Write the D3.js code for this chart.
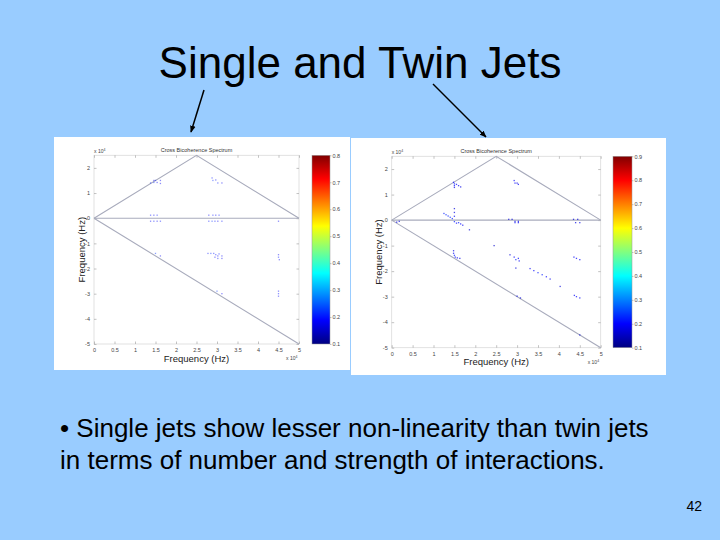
<!DOCTYPE html>
<html><head><meta charset="utf-8">
<script src="https://cdn.jsdelivr.net/npm/d3@7"></script>
<style>
html,body{margin:0;padding:0;background:#99ccff;}
svg{display:block;}
</style></head>
<body>
<svg id="c" width="720" height="540"></svg>
<script>
// ---- data (frequencies in units of 10^4 Hz) ----
const xTicks = [0,0.5,1,1.5,2,2.5,3,3.5,4,4.5,5];
const yTicks = [2,1,0,-1,-2,-3,-4,-5];
const singleCbTicks = [0.1,0.2,0.3,0.4,0.5,0.6,0.7,0.8];
const twinCbTicks = [0.1,0.2,0.3,0.4,0.5,0.6,0.7,0.8,0.9];
// principal-domain boundary lines
const boundaryTri = [[0,0],[2.5,2.5],[5,0]];
const boundaryAxis = [[0,0],[5,0]];
const boundaryLow = [[0,0],[5,-5]];
// [f1, f2, bicoherence]
const singlePoints = [
 [1.38,1.4,0.2],[1.46,1.42,0.22],[1.5,1.5,0.2],[1.54,1.42,0.18],[1.62,1.38,0.18],[1.62,1.5,0.18],[1.46,1.5,0.18],
 [2.88,1.6,0.2],[2.9,1.5,0.22],[2.97,1.52,0.18],[3.02,1.4,0.2],[3.12,1.4,0.18],
 [1.38,0.12,0.2],[1.46,0.12,0.18],[1.54,0.12,0.2],[1.38,-0.12,0.18],[1.46,-0.12,0.2],[1.54,-0.12,0.18],[1.62,-0.12,0.2],
 [2.8,0.12,0.18],[2.9,0.12,0.2],[2.97,0.12,0.18],[3.05,0.12,0.2],[2.8,-0.12,0.2],[2.88,-0.12,0.22],[2.95,-0.12,0.2],[3.02,-0.12,0.18],[3.12,-0.12,0.2],
 [4.5,-0.12,0.18],
 [1.5,-1.4,0.22],[1.62,-1.5,0.18],
 [2.78,-1.4,0.2],[2.85,-1.4,0.22],[2.92,-1.4,0.2],[2.97,-1.45,0.2],[3.02,-1.5,0.18],[3.05,-1.42,0.2],[3.12,-1.5,0.18],[2.95,-1.55,0.18],[3.02,-1.6,0.2],[3.12,-1.6,0.18],
 [4.5,-1.45,0.18],[4.5,-1.55,0.2],[4.52,-1.65,0.18],
 [3.0,-2.9,0.22],[3.12,-3.0,0.18],
 [4.5,-2.9,0.18],[4.5,-3.0,0.2],[4.5,-3.1,0.18]
];
const twinPoints = [
 [1.48,1.48,0.2],[1.5,1.42,0.22],[1.5,1.35,0.2],[1.5,1.28,0.18],[1.55,1.4,0.2],[1.6,1.35,0.19],[1.65,1.3,0.18],
 [2.93,1.55,0.19],[2.95,1.45,0.2],[3.0,1.45,0.18],[3.03,1.4,0.19],
 [1.5,0.45,0.17],[1.5,0.3,0.18],[1.5,0.15,0.19],
 [1.25,0.26,0.22],[1.3,0.21,0.23],[1.35,0.16,0.22],[1.4,0.11,0.23],[1.45,0.06,0.22],
 [1.5,-0.06,0.22],[1.55,-0.12,0.2],[1.6,-0.1,0.22],[1.65,-0.15,0.2],[1.7,-0.2,0.19],
 [1.86,-0.38,0.17],[0.12,-0.08,0.18],[0.18,-0.05,0.17],
 [2.8,0.03,0.17],[2.88,0.03,0.17],[2.95,-0.1,0.19],[3.03,-0.1,0.19],[2.95,-0.05,0.18],[3.03,-0.05,0.18],
 [4.35,0.03,0.17],[4.4,-0.1,0.18],[4.5,-0.1,0.18],[4.45,0.03,0.17],
 [1.48,-1.2,0.17],[1.48,-1.3,0.19],[1.5,-1.38,0.22],[1.52,-1.45,0.2],[1.57,-1.48,0.19],[1.63,-1.5,0.18],
 [2.93,-1.45,0.2],[2.97,-1.55,0.22],[3.03,-1.5,0.2],[3.05,-1.6,0.19],[2.97,-1.88,0.17],[2.83,-1.36,0.17],[2.45,-1.0,0.16],
 [3.31,-1.9,0.19],[3.4,-1.98,0.2],[3.5,-2.06,0.22],[3.6,-2.14,0.22],[3.7,-2.22,0.2],[3.79,-2.31,0.19],[4.03,-2.6,0.17],
 [4.36,-1.45,0.19],[4.42,-1.5,0.2],[4.5,-1.55,0.19],
 [4.37,-2.95,0.19],[4.42,-3.0,0.2],[4.5,-3.05,0.19],
 [3.0,-2.98,0.18],[3.08,-3.05,0.17],
 [4.5,-4.5,0.17]
];

const FONT = '"Liberation Sans", Arial, Helvetica, sans-serif';
const svg = d3.select('#c');

// slide title
svg.append('text').attr('x',360).attr('y',78).attr('text-anchor','middle')
  .attr('font-family',FONT).attr('font-size',44).attr('fill','#000').text('Single and Twin Jets');

// arrows
const defs = svg.append('defs');
defs.append('marker').attr('id','ah').attr('viewBox','0 0 10 10').attr('refX',9).attr('refY',5)
  .attr('markerWidth',7).attr('markerHeight',7).attr('markerUnits','userSpaceOnUse').attr('orient','auto')
  .append('path').attr('d','M0,1 L10,5 L0,9 Z').attr('fill','#000');
svg.append('line').attr('x1',204).attr('y1',90).attr('x2',191).attr('y2',132)
  .attr('stroke','#000').attr('stroke-width',1.5).attr('marker-end','url(#ah)');
svg.append('line').attr('x1',433).attr('y1',84).attr('x2',486).attr('y2',137)
  .attr('stroke','#000').attr('stroke-width',1.5).attr('marker-end','url(#ah)');

// jet colormap
const jet = d3.scaleLinear()
  .domain([0,0.125,0.375,0.625,0.875,1])
  .range(['#000080','#0000ff','#00ffff','#ffff00','#ff0000','#800000'])
  .interpolate(d3.interpolateRgb);

function panel(cfg){
  const g = svg.append('g');
  g.append('rect').attr('x',cfg.px).attr('y',cfg.py).attr('width',cfg.pw).attr('height',cfg.ph).attr('fill','#fff');
  const x = d3.scaleLinear().domain([0,5]).range([cfg.ax0,cfg.ax1]);
  const y = d3.scaleLinear().domain([-5,2.5]).range([cfg.ay1,cfg.ay0]);
  // axes box
  g.append('rect').attr('x',cfg.ax0).attr('y',cfg.ay0).attr('width',cfg.ax1-cfg.ax0).attr('height',cfg.ay1-cfg.ay0)
    .attr('fill','none').attr('stroke','#dadada').attr('stroke-width',0.8);
  const xa = g.append('g').attr('transform',`translate(0,${cfg.ay1})`)
    .call(d3.axisBottom(x).tickValues(xTicks).tickSize(-2.5).tickPadding(4).tickFormat(d=>String(d)));
  const xt = g.append('g').attr('transform',`translate(0,${cfg.ay0})`)
    .call(d3.axisTop(x).tickValues(xTicks).tickSize(-2.5).tickFormat(''));
  const ya = g.append('g').attr('transform',`translate(${cfg.ax0},0)`)
    .call(d3.axisLeft(y).tickValues(yTicks).tickSize(-2.5).tickPadding(4).tickFormat(d=>String(d)));
  const yr = g.append('g').attr('transform',`translate(${cfg.ax1},0)`)
    .call(d3.axisRight(y).tickValues(yTicks).tickSize(-2.5).tickFormat(''));
  [xa,xt,ya,yr].forEach(a=>{
    a.select('.domain').remove();
    a.selectAll('line').attr('stroke','#9a9a9a').attr('stroke-width',0.6);
    a.selectAll('text').attr('font-family',FONT).attr('font-size',5.5).attr('fill','#444');
  });
  // boundary lines
  const line = d3.line().x(d=>x(d[0])).y(d=>y(d[1]));
  [boundaryTri,boundaryAxis,boundaryLow].forEach(b=>{
    g.append('path').attr('d',line(b)).attr('fill','none').attr('stroke','#a8abbc').attr('stroke-width',1.1);
  });
  // points
  const cnorm = d3.scaleLinear().domain([0.1,cfg.cmax]).range([0,1]);
  g.selectAll('rect.pt').data(cfg.points).join('rect').attr('class','pt')
    .attr('x',d=>x(d[0])-0.65).attr('y',d=>y(d[1])-0.65).attr('width',1.3).attr('height',1.3)
    .attr('fill',d=>jet(cnorm(d[2]))).attr('opacity',cfg.op);
  // title & labels
  g.append('text').attr('x',(cfg.ax0+cfg.ax1)/2).attr('y',cfg.ay0-3.5).attr('text-anchor','middle')
    .attr('font-family',FONT).attr('font-size',5.5).attr('fill','#333').text('Cross Bicoherence Spectrum');
  g.append('text').attr('x',(cfg.ax0+cfg.ax1)/2).attr('y',cfg.ay1+17.5).attr('text-anchor','middle')
    .attr('font-family',FONT).attr('font-size',9.5).attr('fill','#222').text('Frequency (Hz)');
  g.append('text').attr('transform',`translate(${cfg.ax0-9.5},${(cfg.ay0+cfg.ay1)/2}) rotate(-90)`)
    .attr('text-anchor','middle').attr('font-family',FONT).attr('font-size',9.5).attr('fill','#222').text('Frequency (Hz)');
  const e1 = g.append('text').attr('x',cfg.ax0).attr('y',cfg.ay0-2.5).attr('font-family',FONT).attr('font-size',5).attr('fill','#444');
  e1.append('tspan').text('x 10');
  e1.append('tspan').attr('dy',-2).attr('font-size',3.5).text('4');
  const e2 = g.append('text').attr('x',cfg.ax1-13).attr('y',cfg.ay1+16).attr('font-family',FONT).attr('font-size',5).attr('fill','#444');
  e2.append('tspan').text('x 10');
  e2.append('tspan').attr('dy',-2).attr('font-size',3.5).text('4');
  // colorbar
  const gid = 'grad'+cfg.id;
  const grad = defs.append('linearGradient').attr('id',gid).attr('x1',0).attr('y1',1).attr('x2',0).attr('y2',0);
  d3.range(0,1.0001,0.125/2).forEach(t=>{
    grad.append('stop').attr('offset',t).attr('stop-color',jet(t));
  });
  g.append('rect').attr('x',cfg.cb0).attr('y',cfg.ay0).attr('width',cfg.cb1-cfg.cb0).attr('height',cfg.ay1-cfg.ay0)
    .attr('fill',`url(#${gid})`).attr('stroke','#999').attr('stroke-width',0.5);
  const cy = d3.scaleLinear().domain([0.1,cfg.cmax]).range([cfg.ay1,cfg.ay0]);
  const ca = g.append('g').attr('transform',`translate(${cfg.cb1},0)`)
    .call(d3.axisRight(cy).tickValues(cfg.cbTicks).tickSize(1.5).tickPadding(1).tickFormat(d3.format('.1f')));
  ca.select('.domain').remove();
  ca.selectAll('line').attr('stroke','#888').attr('stroke-width',0.5);
  ca.selectAll('text').attr('font-family',FONT).attr('font-size',5.5).attr('fill','#444');
}

panel({id:'s',px:54,py:137,pw:296,ph:233,ax0:94,ax1:299,ay0:155.3,ay1:344,cb0:312,cb1:330,cmax:0.8,
  cbTicks:singleCbTicks,points:singlePoints,op:0.45});
panel({id:'t',px:351,py:138,pw:315,ph:237,ax0:391.7,ax1:600.7,ay0:156.3,ay1:347.7,cb0:613,cb1:632,cmax:0.9,
  cbTicks:twinCbTicks,points:twinPoints,op:0.7});

// bullet text
svg.append('text').attr('x',60).attr('y',437).attr('font-family',FONT).attr('font-size',26).attr('fill','#000')
  .text('\u2022 Single jets show lesser non-linearity than twin jets');
svg.append('text').attr('x',60).attr('y',469).attr('font-family',FONT).attr('font-size',26).attr('fill','#000')
  .text('in terms of number and strength of interactions.');
svg.append('text').attr('x',702).attr('y',511).attr('text-anchor','end').attr('font-family',FONT).attr('font-size',14).attr('fill','#000')
  .text('42');
</script>
</body></html>
